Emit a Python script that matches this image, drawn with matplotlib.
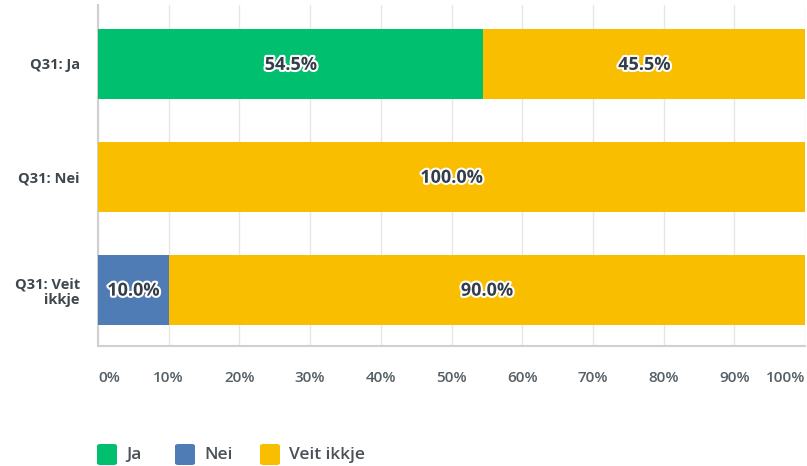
import matplotlib
matplotlib.use("Agg")
import matplotlib.pyplot as plt
import matplotlib.patheffects as pe
from matplotlib.patches import FancyBboxPatch

categories = ["Q31: Ja", "Q31: Nei", "Q31: Veit\nikkje"]
series_names = ["Ja", "Nei", "Veit ikkje"]
ja = [54.5, 0.0, 0.0]
nei = [0.0, 0.0, 10.0]
veit = [45.5, 100.0, 90.0]
tick_values = [0, 10, 20, 30, 40, 50, 60, 70, 80, 90, 100]
tick_labels = ["0%", "10%", "20%", "30%", "40%", "50%", "60%", "70%", "80%", "90%", "100%"]
colors = ["#00bf6f", "#507cb6", "#f9be00"]

plt.rcParams['font.family'] = ['Open Sans', 'DejaVu Sans']
W, H = 807, 466
fig = plt.figure(figsize=(W / 100, H / 100), dpi=100)
ax = fig.add_axes([98 / W, 1 - 346 / H, (805 - 98) / W, (346 - 5) / H])

ypos = [0, 1, 2]
left = [0.0] * 3
txt_col = "#333e48"
for vals, col in zip([ja, nei, veit], colors):
    ax.barh(ypos, vals, left=left, height=0.62, color=col, zorder=3)
    for i, v in enumerate(vals):
        if v > 0:
            ax.text(left[i] + v / 2, ypos[i] + 0.01, f"{v:.1f}%", ha="center", va="center",
                    fontsize=13, fontweight="bold", color=txt_col, zorder=4,
                    path_effects=[pe.withStroke(linewidth=3, foreground="white")])
    left = [l + v for l, v in zip(left, vals)]

ax.set_xlim(0, 100)
ax.set_ylim(2.5, -0.52)
ax.set_xticks(tick_values)
ax.set_xticklabels(tick_labels)
ax.tick_params(axis="x", length=0, pad=18, labelsize=11, labelcolor="#555f66")
lbls = ax.get_xticklabels()
lbls[0].set_ha("left")
lbls[-1].set_ha("right")
for l in lbls:
    l.set_fontweight("semibold")
ax.set_yticks(ypos)
ax.set_yticklabels(categories, fontsize=10.5, fontweight="bold", color="#3f474d")
ax.tick_params(axis="y", length=0, pad=13)
ax.grid(axis="x", color="#e6e6e6", linewidth=1, zorder=0)
for s in ["top", "right"]:
    ax.spines[s].set_visible(False)
ax.spines["left"].set_color("#d0d0d0")
ax.spines["left"].set_linewidth(1.5)
ax.spines["bottom"].set_color("#d0d0d0")
ax.spines["bottom"].set_linewidth(1.5)

# legend
lx = [97, 175, 260]
for x0, name, col in zip(lx, series_names, colors):
    box = FancyBboxPatch((x0 / W, 1 - 465 / H), 20 / W, 21 / H,
                         boxstyle="round,pad=0,rounding_size=0.004",
                         transform=fig.transFigure, facecolor=col, edgecolor="none")
    fig.patches.append(box)
    fig.text((x0 + 29) / W, 1 - 455 / H, name, ha="left", va="center",
             fontsize=12.5, fontweight="semibold", color="#4a5258")

fig.savefig("out.png", dpi=100)
